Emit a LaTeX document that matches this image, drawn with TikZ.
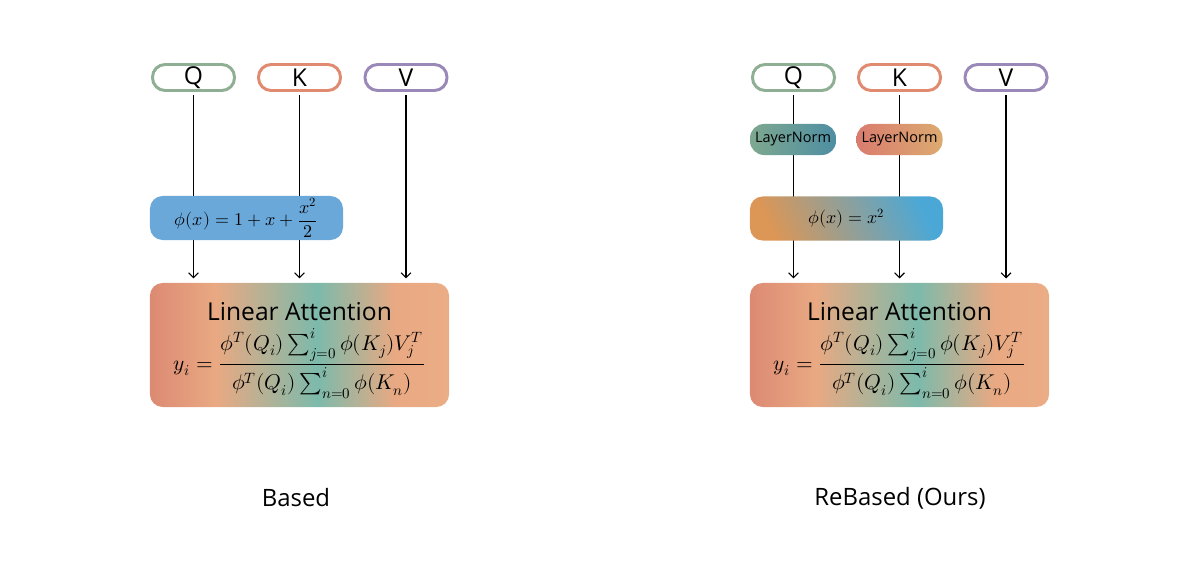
\documentclass[tikz,border=0pt]{standalone}
\usepackage{amsmath}
\usepackage{fontspec}
\usepackage{unicode-math}
\setmainfont{Open Sans}
\setmathfont{Latin Modern Math}
\usetikzlibrary{arrows.meta}

\definecolor{qcol}{HTML}{8FAF94}
\definecolor{kcol}{HTML}{E08A70}
\definecolor{vcol}{HTML}{9A88B8}
\definecolor{phiblue}{HTML}{6AA8DA}
\definecolor{attL}{HTML}{DC8A73}
\definecolor{attP}{HTML}{E9A982}
\definecolor{attT}{HTML}{7CBAAB}
\definecolor{attR}{HTML}{EBAD86}
\definecolor{lnqL}{HTML}{7EA88F}
\definecolor{lnqR}{HTML}{4E8EA3}
\definecolor{lnkL}{HTML}{D97C6E}
\definecolor{lnkR}{HTML}{DCAA70}
\definecolor{phiL}{HTML}{DC9656}
\definecolor{phiM}{HTML}{7EAAB9}
\definecolor{phiR}{HTML}{4BA8D6}

\pgfdeclarehorizontalshading{attshade}{100bp}{color(0bp)=(attL); color(25bp)=(attL);
  color(36bp)=(attP); color(53bp)=(attT); color(66bp)=(attP); color(75bp)=(attR); color(100bp)=(attR)}

\tikzset{
  inbox/.style={draw=#1, line width=2.1pt, rounded corners=9pt, fill=white,
    minimum width=2.05cm, minimum height=0.65cm, inner sep=0pt,
    font=\fontsize{17.5}{20}\selectfont},
  attbox/.style={rounded corners=9pt, shading=attshade, align=center, inner sep=0pt,
    minimum width=7.475cm, minimum height=3.1cm},
  phibox/.style={rounded corners=9pt, inner sep=0pt,
    minimum width=4.825cm, minimum height=1.1cm, font=\fontsize{12.8}{15}\selectfont},
  lnbox/.style={rounded corners=10pt, inner sep=0pt,
    minimum width=2.15cm, minimum height=0.775cm, font=\fontsize{10.3}{13}\selectfont},
  arr/.style={-{Straight Barb[length=3.5pt,width=7pt]}, line width=0.8pt,
    shorten <=2pt, shorten >=3pt},
  caption/.style={font=\fontsize{17}{20}\selectfont}
}

\newcommand{\attformula}{{\fontsize{17.5}{20}\selectfont\rule{0pt}{21pt}Linear Attention}\\[4pt]
  {\fontsize{15.2}{17}\selectfont $\displaystyle y_i=\frac{\phi^T(Q_i)\sum_{j=0}^{i}\phi(K_j)V_j^T}{\phi^T(Q_i)\sum_{n=0}^{i}\phi(K_n)}$}}

\begin{document}
\begin{tikzpicture}[x=0.025cm, y=-0.025cm]
    \useasboundingbox (0,0) rectangle (1200,563);

    % Based: inputs and attention
    \node[inbox=qcol] (q1) at (193.5,77.5) {Q};
    \node[inbox=kcol] (k1) at (299.5,77.5) {K};
    \node[inbox=vcol] (v1) at (406,77.5) {V};
    \node[attbox] (att1) at (299.5,345) {\attformula};

    % ReBased: inputs and attention
    \node[inbox=qcol] (q2) at (793.5,77.5) {Q};
    \node[inbox=kcol] (k2) at (899.5,77.5) {K};
    \node[inbox=vcol] (v2) at (1006,77.5) {V};
    \node[attbox] (att2) at (899.5,345) {\attformula};

    % Connectors (behind the feature maps)
    \foreach \src/\dst in {q1/att1,k1/att1,v1/att1,q2/att2,k2/att2,v2/att2}
        \draw[arr] (\src.south) -- (\src.south |- \dst.north);

    % Feature maps
    \node[phibox, fill=phiblue] (phi1) at (246.5,218) {$\phi(x)=1+x+\dfrac{x^2}{2}$};
    \node[lnbox, left color=lnqL, right color=lnqR] (ln1) at (793,139.5) {LayerNorm};
    \node[lnbox, left color=lnkL, right color=lnkR] (ln2) at (899.5,139.5) {LayerNorm};
    \node[phibox, left color=phiL, middle color=phiM, right color=phiR,
        shading angle=115] (phi2) at (846.5,218.5) {$\phi(x)=x^2$};

    % Captions
    \node[caption] (cap1) at (296,498) {Based};
    \node[caption] (cap2) at (900,498) {ReBased (Ours)};
\end{tikzpicture}
\end{document}
